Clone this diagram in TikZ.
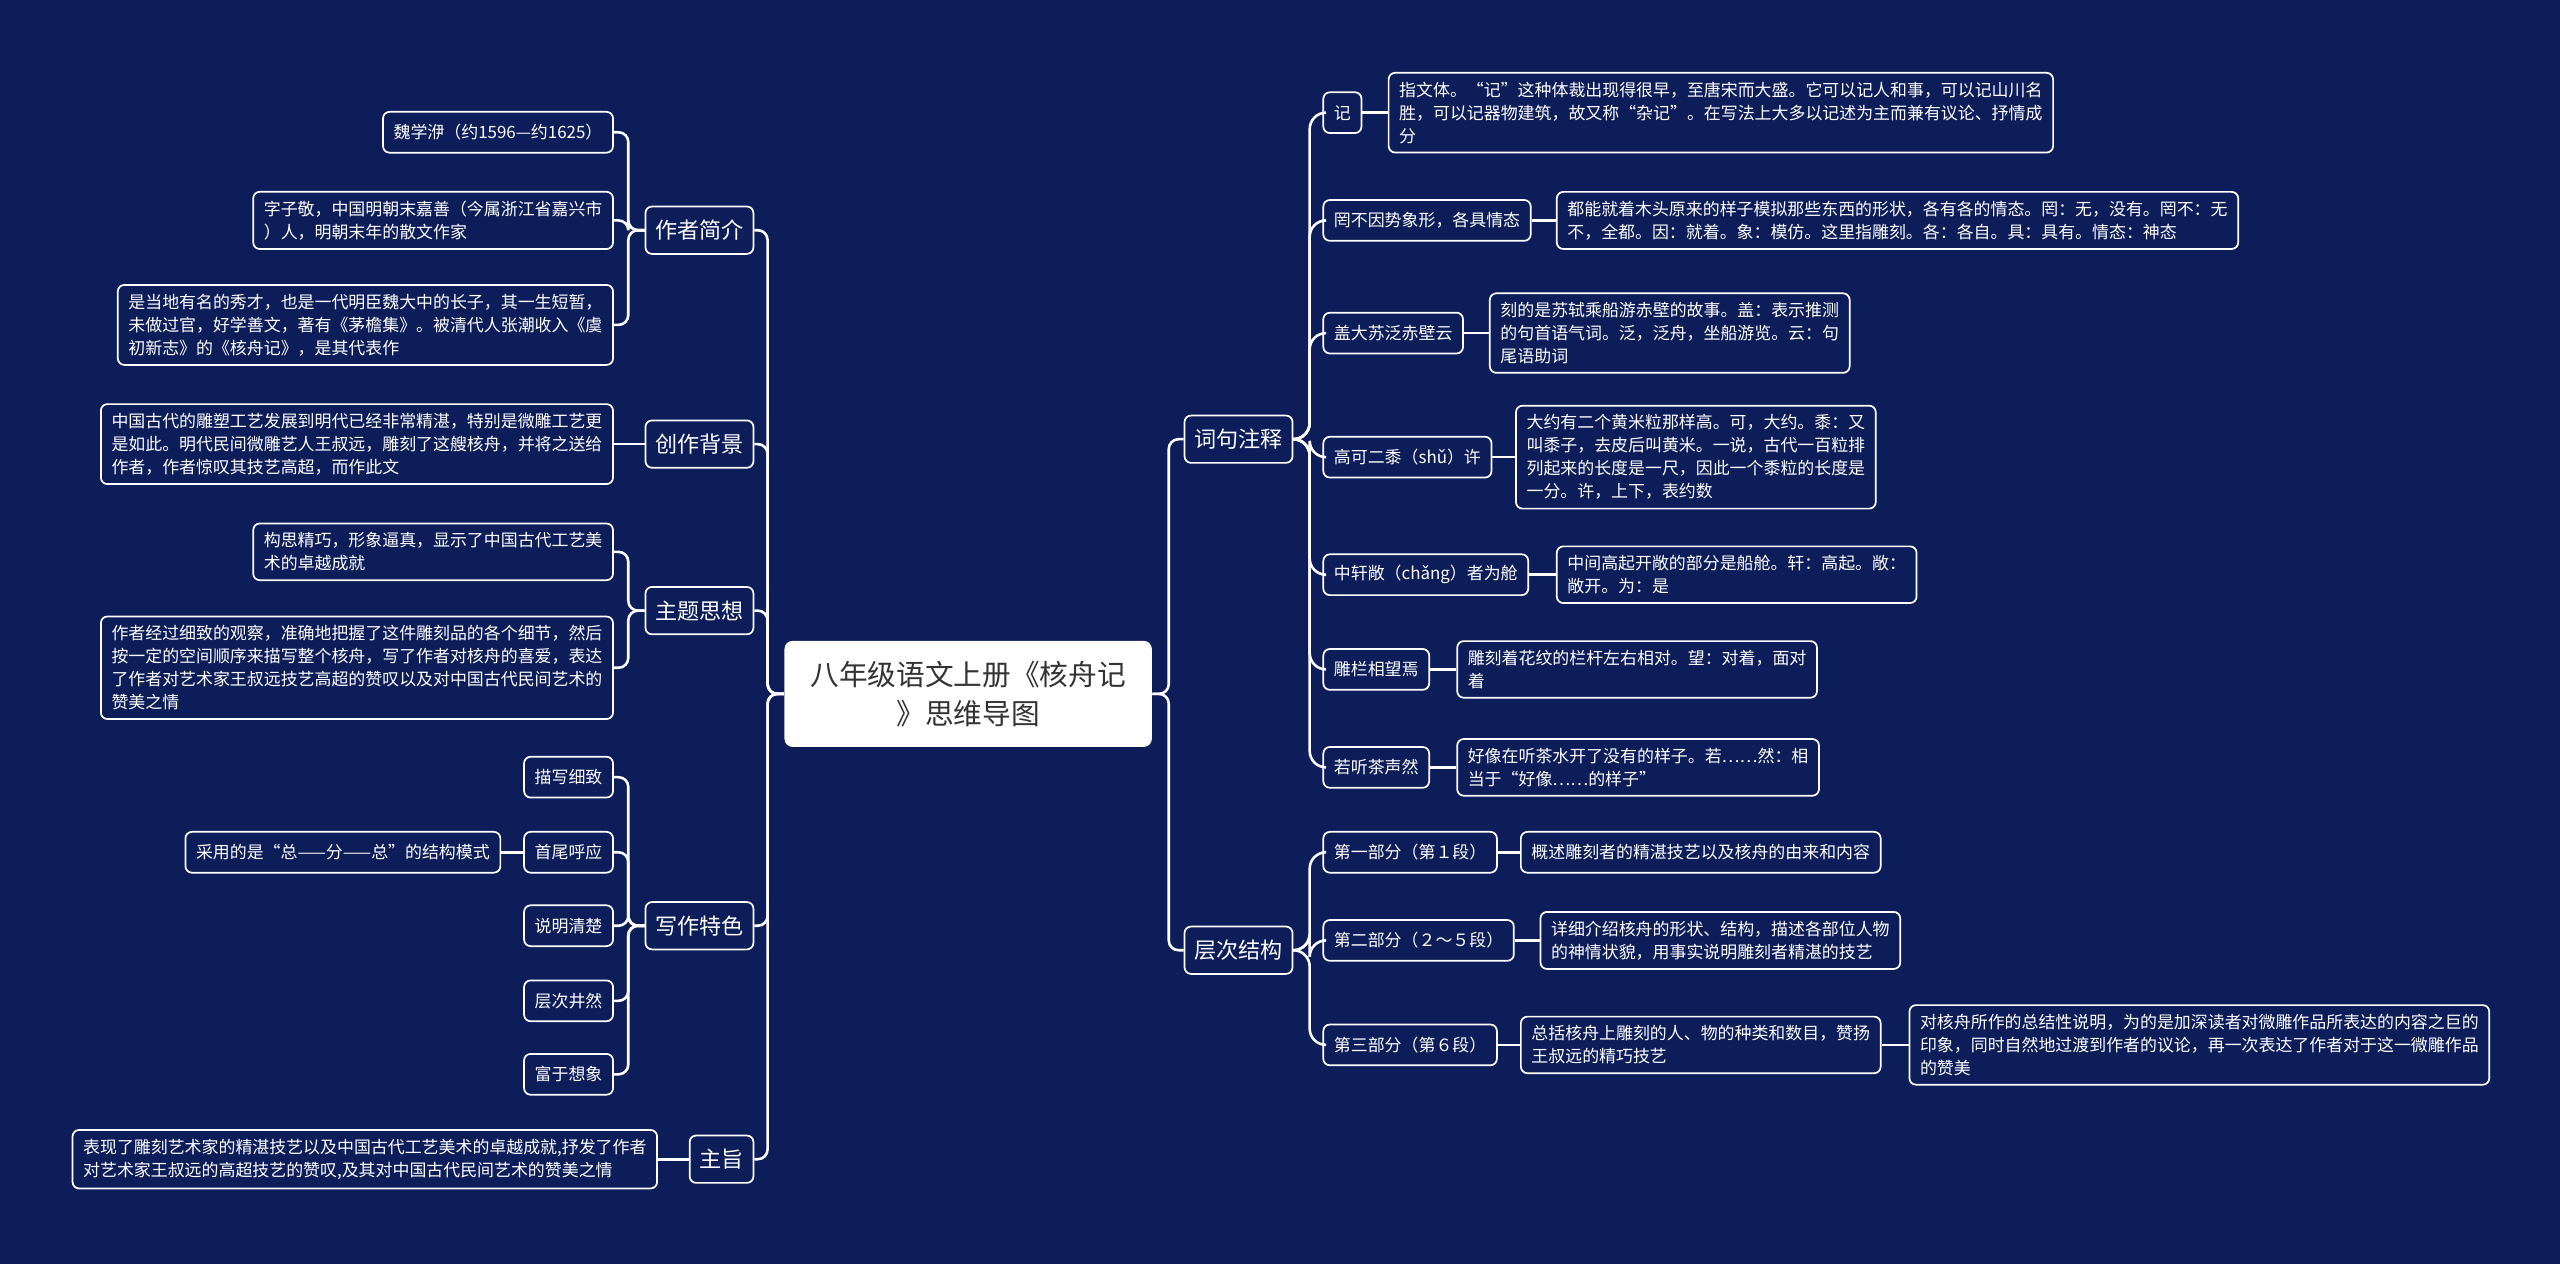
\documentclass[tikz,border=0pt]{standalone}
\usepackage{fontspec}
\setmainfont{Noto Sans CJK SC}
\usetikzlibrary{positioning}
\definecolor{navy}{HTML}{0C1D59}
\definecolor{inkd}{HTML}{333333}
\tikzset{
  box/.style={rectangle, rounded corners=0.8mm, draw=white, fill=navy, line width=0.6pt,
              text=white, align=left, inner xsep=1.3mm, inner ysep=1.1mm,
              minimum height=5mm, font=\fontsize{5.9}{8}\selectfont},
  branch/.style={box, inner xsep=1.2mm, minimum height=5.8mm, font=\fontsize{7.7}{9}\selectfont},
  root/.style={rectangle, rounded corners=1mm, fill=white, text=inkd, align=center,
               minimum width=45mm, minimum height=13mm, font=\fontsize{10}{13.6}\selectfont},
  conn/.style={draw=white, line width=0.9pt, rounded corners=1.2mm},
}

\begin{document}
\begin{tikzpicture}[x=0.2mm, y=-0.2mm]
  \fill[navy] (0,0) rectangle (1568,774);
  \useasboundingbox (0,0) rectangle (1568,774);

  \node[root] (root) at (593,425) {八年级语文上册《核舟记\\》思维导图};

  % left branches
  \node[branch, anchor=east] (author) at (462,141) {作者简介};
  \node[branch, anchor=east] (bg) at (462,272) {创作背景};
  \node[branch, anchor=east] (theme) at (462,374) {主题思想};
  \node[branch, anchor=east] (feat) at (462,567) {写作特色};
  \node[branch, anchor=east] (gist) at (462,710) {主旨};

  \node[box, anchor=east] (au1) at (376,81) {魏学洢（约1596—约1625）};
  \node[box, anchor=east] (au2) at (376,135) {字子敬，中国明朝末嘉善（今属浙江省嘉兴市\\）人，明朝末年的散文作家};
  \node[box, anchor=east] (au3) at (376,199) {是当地有名的秀才，也是一代明臣魏大中的长子，其一生短暂，\\未做过官，好学善文，著有《茅檐集》。被清代人张潮收入《虞\\初新志》的《核舟记》，是其代表作};
  \node[box, anchor=east] (bg1) at (376,272) {中国古代的雕塑工艺发展到明代已经非常精湛，特别是微雕工艺更\\是如此。明代民间微雕艺人王叔远，雕刻了这艘核舟，并将之送给\\作者，作者惊叹其技艺高超，而作此文};
  \node[box, anchor=east] (th1) at (376,338) {构思精巧，形象逼真，显示了中国古代工艺美\\术的卓越成就};
  \node[box, anchor=east] (th2) at (376,409) {作者经过细致的观察，准确地把握了这件雕刻品的各个细节，然后\\按一定的空间顺序来描写整个核舟，写了作者对核舟的喜爱，表达\\了作者对艺术家王叔远技艺高超的赞叹以及对中国古代民间艺术的\\赞美之情};
  \node[box, anchor=east] (ft1) at (376,476) {描写细致};
  \node[box, anchor=east] (ft2) at (376,522) {首尾呼应};
  \node[box, anchor=east] (ft3) at (376,567) {说明清楚};
  \node[box, anchor=east] (ft4) at (376,613) {层次井然};
  \node[box, anchor=east] (ft5) at (376,658) {富于想象};
  \node[box, anchor=east] (ft2a) at (307,522) {采用的是“总——分——总”的结构模式};
  \node[box, anchor=east] (gs1) at (403,710) {表现了雕刻艺术家的精湛技艺以及中国古代工艺美术的卓越成就,抒发了作者\\对艺术家王叔远的高超技艺的赞叹,及其对中国古代民间艺术的赞美之情};

  % right branches
  \node[branch, anchor=west] (notes) at (725,269) {词句注释};
  \node[branch, anchor=west] (parts) at (725,582) {层次结构};

  \node[box, anchor=west] (n1) at (810,69) {记};
  \node[box, anchor=west] (n2) at (810,135) {罔不因势象形，各具情态};
  \node[box, anchor=west] (n3) at (810,204) {盖大苏泛赤壁云};
  \node[box, anchor=west] (n4) at (810,280) {高可二黍（shǔ）许};
  \node[box, anchor=west] (n5) at (810,352) {中轩敞（chǎng）者为舱};
  \node[box, anchor=west] (n6) at (810,410) {雕栏相望焉};
  \node[box, anchor=west] (n7) at (810,470) {若听茶声然};

  \node[box, anchor=west] (n1d) at (850,69) {指文体。“记”这种体裁出现得很早，至唐宋而大盛。它可以记人和事，可以记山川名\\胜，可以记器物建筑，故又称“杂记”。在写法上大多以记述为主而兼有议论、抒情成\\分};
  \node[box, anchor=west] (n2d) at (953,135) {都能就着木头原来的样子模拟那些东西的形状，各有各的情态。罔：无，没有。罔不：无\\不，全都。因：就着。象：模仿。这里指雕刻。各：各自。具：具有。情态：神态};
  \node[box, anchor=west] (n3d) at (912,204) {刻的是苏轼乘船游赤壁的故事。盖：表示推测\\的句首语气词。泛，泛舟，坐船游览。云：句\\尾语助词};
  \node[box, anchor=west] (n4d) at (928,280) {大约有二个黄米粒那样高。可，大约。黍：又\\叫黍子，去皮后叫黄米。一说，古代一百粒排\\列起来的长度是一尺，因此一个黍粒的长度是\\一分。许，上下，表约数};
  \node[box, anchor=west] (n5d) at (953,352) {中间高起开敞的部分是船舱。轩：高起。敞：\\敞开。为：是};
  \node[box, anchor=west] (n6d) at (892,410) {雕刻着花纹的栏杆左右相对。望：对着，面对\\着};
  \node[box, anchor=west] (n7d) at (892,470) {好像在听茶水开了没有的样子。若……然：相\\当于“好像……的样子”};

  \node[box, anchor=west] (p1) at (810,522) {第一部分（第１段）};
  \node[box, anchor=west] (p2) at (810,576) {第二部分（２～５段）};
  \node[box, anchor=west] (p3) at (810,640) {第三部分（第６段）};
  \node[box, anchor=west] (p1d) at (931,522) {概述雕刻者的精湛技艺以及核舟的由来和内容};
  \node[box, anchor=west] (p2d) at (943,576) {详细介绍核舟的形状、结构，描述各部位人物\\的神情状貌，用事实说明雕刻者精湛的技艺};
  \node[box, anchor=west] (p3d) at (931,640) {总括核舟上雕刻的人、物的种类和数目，赞扬\\王叔远的精巧技艺};
  \node[box, anchor=west] (p3e) at (1169,640) {对核舟所作的总结性说明，为的是加深读者对微雕作品所表达的内容之巨的\\印象，同时自然地过渡到作者的议论，再一次表达了作者对于这一微雕作品\\的赞美};

  % connectors
  \foreach \n in {author,bg,theme,feat,gist}
    \draw[conn] (root.west) -- ++(-10,0) |- (\n.east);
  \foreach \n in {notes,parts}
    \draw[conn] (root.east) -- ++(10,0) |- (\n.west);
  \foreach \n in {au1,au2,au3}
    \draw[conn] (author.west) -- ++(-10,0) |- (\n.east);
  \foreach \n in {th1,th2}
    \draw[conn] (theme.west) -- ++(-10,0) |- (\n.east);
  \foreach \n in {ft1,ft2,ft3,ft4,ft5}
    \draw[conn] (feat.west) -- ++(-10,0) |- (\n.east);
  \draw[conn] (bg.west) -- (bg1.east);
  \draw[conn] (gist.west) -- (gs1.east);
  \draw[conn] (ft2.west) -- (ft2a.east);
  \foreach \n in {n1,n2,n3,n4,n5,n6,n7}
    \draw[conn, rounded corners=2mm] (notes.east) -- ++(10,0) |- (\n.west);
  \foreach \n in {p1,p2,p3}
    \draw[conn, rounded corners=2mm] (parts.east) -- ++(10,0) |- (\n.west);
  \foreach \n in {1,...,7}
    \draw[conn] (n\n.east) -- (n\n d.west);
  \foreach \n in {1,2,3}
    \draw[conn] (p\n.east) -- (p\n d.west);
  \draw[conn] (p3d.east) -- (p3e.west);
\end{tikzpicture}
\end{document}
